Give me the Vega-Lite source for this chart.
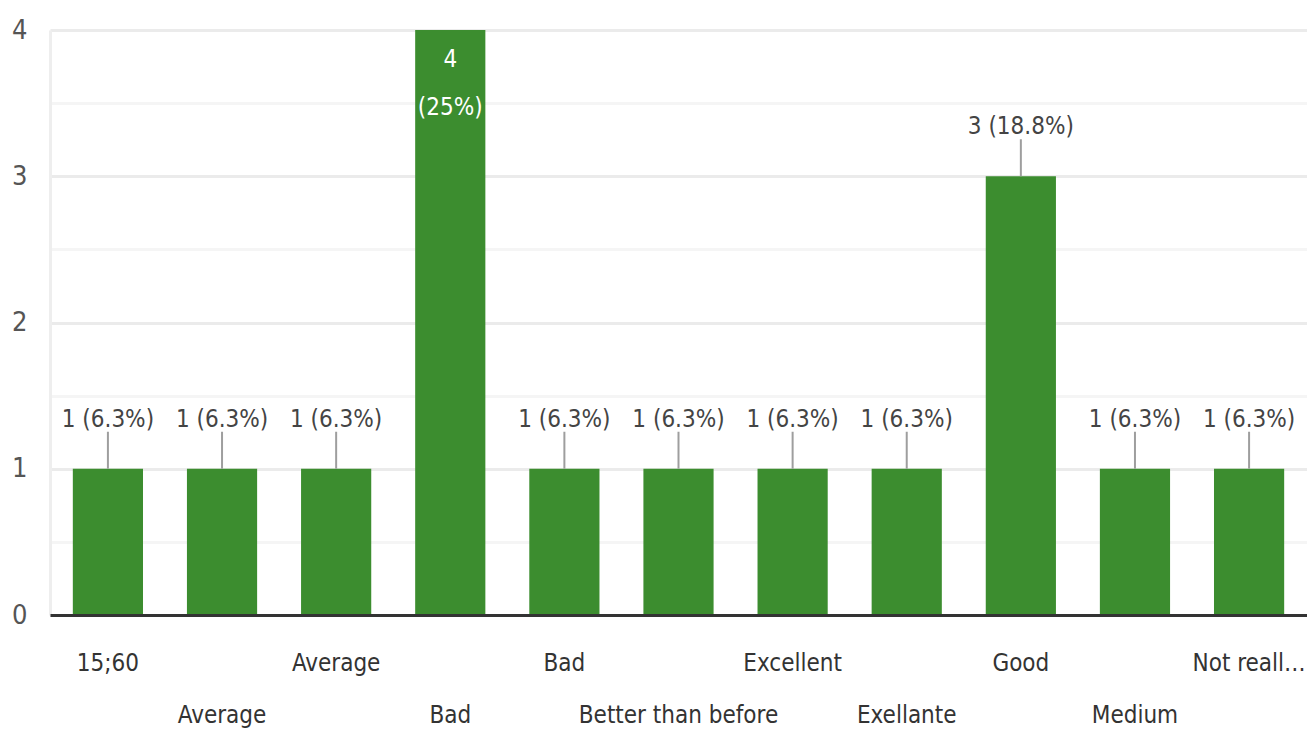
{
  "$schema": "https://vega.github.io/schema/vega-lite/v6.json",
  "autosize": "none",
  "width": 1257,
  "height": 585,
  "padding": {"left": 50, "top": 30, "right": 0, "bottom": 118},
  "background": "white",
  "config": {
    "view": {"stroke": null},
    "font": "'DejaVu Sans Condensed', Roboto, sans-serif"
  },
  "data": {
    "values": [
      {"cat": "15;60", "value": 1, "label": "1 (6.3%)"},
      {"cat": "Average", "value": 1, "label": "1 (6.3%)"},
      {"cat": "Average ", "value": 1, "label": "1 (6.3%)"},
      {"cat": "Bad", "value": 4, "label": "4\n(25%)"},
      {"cat": "Bad ", "value": 1, "label": "1 (6.3%)"},
      {"cat": "Better than before", "value": 1, "label": "1 (6.3%)"},
      {"cat": "Excellent", "value": 1, "label": "1 (6.3%)"},
      {"cat": "Exellante", "value": 1, "label": "1 (6.3%)"},
      {"cat": "Good", "value": 3, "label": "3 (18.8%)"},
      {"cat": "Medium", "value": 1, "label": "1 (6.3%)"},
      {"cat": "Not reall…", "value": 1, "label": "1 (6.3%)"}
    ]
  },
  "encoding": {
    "x": {
      "field": "cat",
      "type": "nominal",
      "sort": null,
      "scale": {"paddingInner": 0.385, "paddingOuter": 0.2},
      "axis": {
        "title": null,
        "ticks": false,
        "labelAngle": 0,
        "labelFont": "'DejaVu Sans Condensed', Roboto, sans-serif",
        "labelFontSize": 24,
        "labelColor": "#333333",
        "labelPadding": 36,
        "labelLineHeight": 52,
        "labelOverlap": false,
        "labelBound": false,
        "labelLimit": 500,
        "labelExpr": "indexof(['Average','Bad','Better than before','Exellante','Medium'], datum.value) >= 0 ? ['', datum.value] : datum.value",
        "domainColor": "#333333",
        "domainWidth": 3,
        "zindex": 2
      }
    }
  },
  "layer": [
    {
      "mark": {"type": "bar", "color": "#3c8d2f"},
      "encoding": {
        "y": {
          "field": "value",
          "type": "quantitative",
          "scale": {"domain": [0, 4], "nice": false},
          "axis": {
            "title": null,
            "values": [0, 0.5, 1, 1.5, 2, 2.5, 3, 3.5, 4],
            "labelExpr": "datum.value % 1 === 0 ? format(datum.value, 'd') : ''",
            "ticks": false,
            "labelFont": "'DejaVu Sans Condensed', Roboto, sans-serif",
            "labelFontSize": 27,
            "labelColor": "#555555",
            "labelPadding": 23,
            "domainColor": "#eeeeee",
            "domainWidth": 3,
            "grid": true,
            "gridWidth": 3,
            "gridColor": {"condition": {"test": "datum.value % 1 === 0", "value": "#ebebeb"}, "value": "#f5f5f5"},
            "zindex": 0
          }
        }
      }
    },
    {
      "transform": [{"filter": "datum.value < 4"}],
      "mark": {"type": "rule", "color": "#9e9e9e", "strokeWidth": 2, "y2Offset": -37},
      "encoding": {
        "y": {"field": "value", "type": "quantitative"},
        "y2": {"field": "value"}
      }
    },
    {
      "transform": [{"filter": "datum.value < 4"}],
      "mark": {"type": "text", "font": "'DejaVu Sans Condensed', Roboto, sans-serif", "fontSize": 24, "color": "#444444", "baseline": "alphabetic", "dy": -42},
      "encoding": {
        "y": {"field": "value", "type": "quantitative"},
        "text": {"field": "label"}
      }
    },
    {
      "transform": [{"filter": "datum.value >= 4"}],
      "mark": {"type": "text", "font": "'DejaVu Sans Condensed', Roboto, sans-serif", "fontSize": 24, "color": "white", "baseline": "top", "dy": 18, "lineBreak": "\n", "lineHeight": 48},
      "encoding": {
        "y": {"field": "value", "type": "quantitative"},
        "text": {"field": "label"}
      }
    }
  ]
}
